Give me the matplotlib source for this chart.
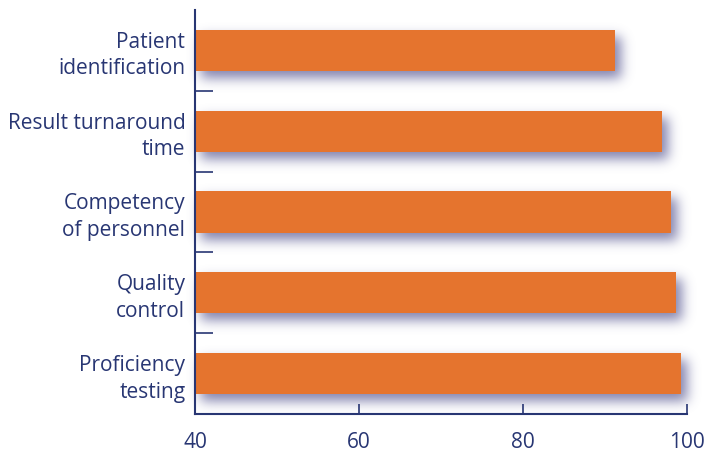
import numpy as np
import matplotlib
matplotlib.use("Agg")
import matplotlib.pyplot as plt
from matplotlib.colors import to_rgb

# Survey data: share of labs rating each quality element (percent)
categories = ["Patient\nidentification", "Result turnaround\ntime",
              "Competency\nof personnel", "Quality\ncontrol", "Proficiency\ntesting"]
values = [91.2, 97.0, 98.0, 98.7, 99.3]
x_ticks = [40, 60, 80, 100]

NAVY = "#283673"
ORANGE = "#E5742E"
SHADOW = "#64649A"

plt.rcParams["font.family"] = ["Open Sans", "DejaVu Sans"]


def gaussian_blur_1d(arr, sigma, axis):
    r = int(3 * sigma)
    x = np.arange(-r, r + 1)
    k = np.exp(-0.5 * (x / sigma) ** 2)
    k /= k.sum()
    return np.apply_along_axis(lambda v: np.convolve(v, k, mode="same"), axis, arr)


class DropShadow:
    """agg_filter: blur the drawn shape and shift it down-right."""

    def __init__(self, color, sigma=6.0, dx=6, dy=7, alpha=0.8):
        self.rgb = to_rgb(color)
        self.sigma, self.dx, self.dy, self.alpha = sigma, dx, dy, alpha

    def __call__(self, im, dpi):
        pad = int(3 * self.sigma) + max(self.dx, self.dy) + 2
        ny, nx, _ = im.shape
        a = np.zeros((ny + 2 * pad, nx + 2 * pad))
        a[pad:-pad, pad:-pad] = im[:, :, 3]
        a = gaussian_blur_1d(a, self.sigma, 0)
        a = gaussian_blur_1d(a, self.sigma, 1)
        out = np.zeros((a.shape[0], a.shape[1], 4))
        out[..., 0], out[..., 1], out[..., 2] = self.rgb
        out[..., 3] = np.clip(a * self.alpha, 0, 1)
        return out, -pad + self.dx, -pad - self.dy


fig = plt.figure(figsize=(7.17, 4.54), dpi=100)
ax = fig.add_axes([195 / 717, 1 - 414 / 454, (687 - 195) / 717, (414 - 10) / 454])

y = np.arange(len(categories))
x0 = x_ticks[0]
widths = np.array(values) - x0

shadow = ax.barh(y, widths, left=x0, height=0.51, color=SHADOW, zorder=1)
for p in shadow.patches:
    p.set_clip_on(False)
    p.set_agg_filter(DropShadow(SHADOW))
bars = ax.barh(y, widths, left=x0, height=0.51, color=ORANGE, zorder=2)
for p in bars.patches:
    p.set_clip_on(False)

ax.set_xlim(40, 100)
ax.set_ylim(len(categories) - 0.5, -0.5)

for s in ["top", "right"]:
    ax.spines[s].set_visible(False)
for s in ["left", "bottom"]:
    ax.spines[s].set_color(NAVY)
    ax.spines[s].set_linewidth(1.5)

ax.set_xticks(x_ticks)
ax.set_xticklabels([str(t) for t in x_ticks])
ax.tick_params(axis="x", direction="in", length=7.5, width=1.2, color=NAVY,
               labelcolor=NAVY, labelsize=15, pad=13)

ax.set_yticks(y)
ax.set_yticklabels(categories, linespacing=1.35)
ax.tick_params(axis="y", which="major", length=0, labelcolor=NAVY,
               labelsize=15, pad=7)
ax.set_yticks(y[:-1] + 0.5, minor=True)
ax.tick_params(axis="y", which="minor", direction="in", length=13, width=1.2,
               color=NAVY)
for lab in ax.get_yticklabels():
    lab.set_horizontalalignment("right")
    lab.set_multialignment("right")

fig.savefig("out.png", dpi=100)
